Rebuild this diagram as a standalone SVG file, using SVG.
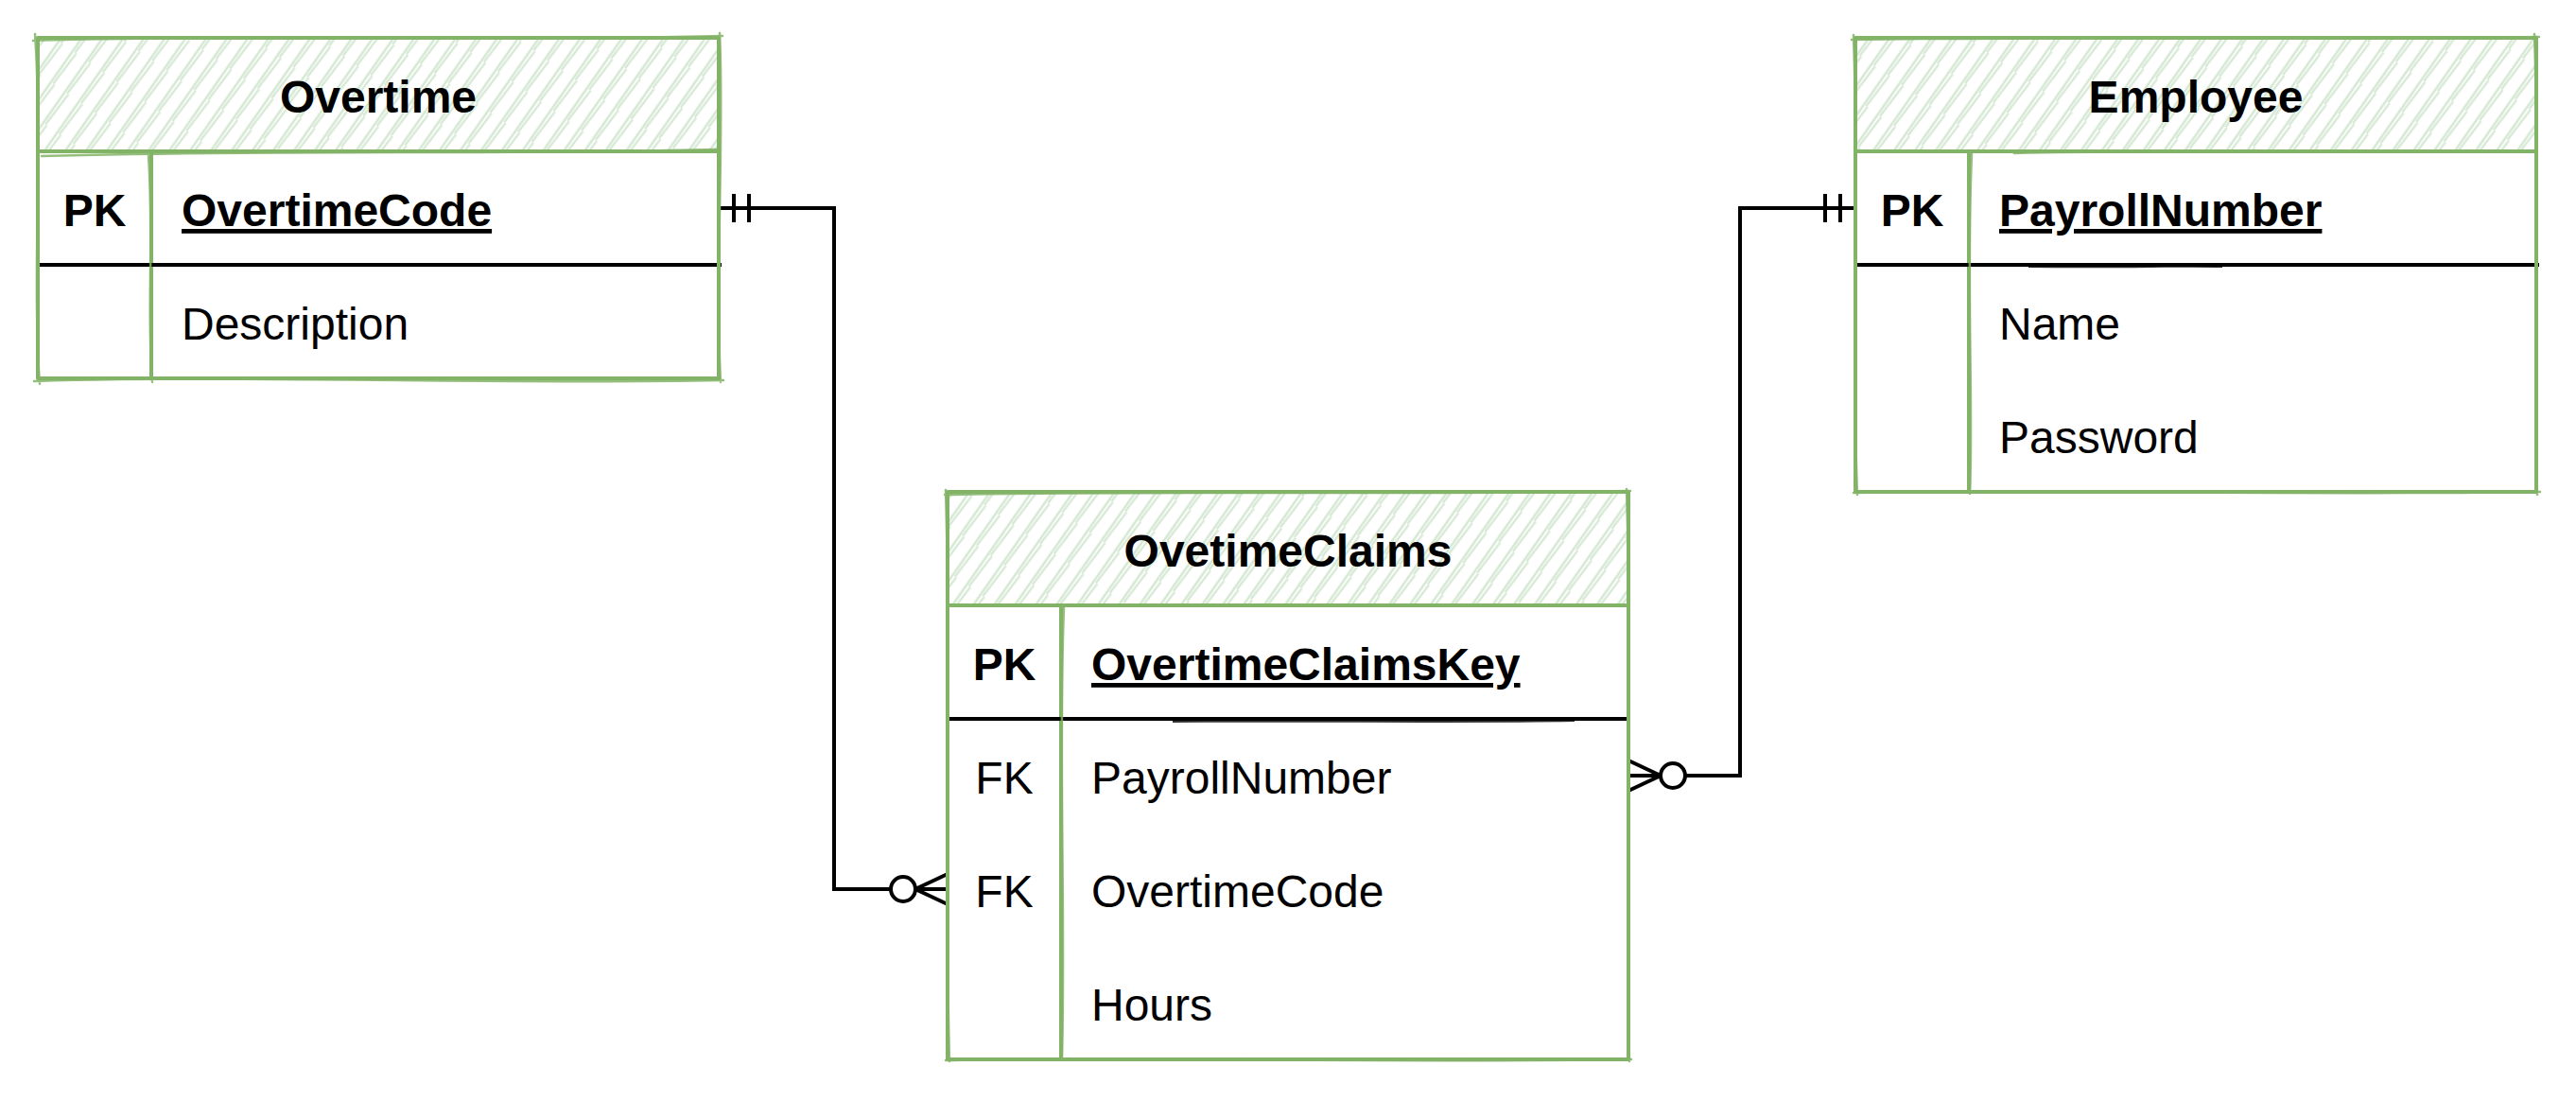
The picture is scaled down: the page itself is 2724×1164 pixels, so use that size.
<svg xmlns="http://www.w3.org/2000/svg" width="2724" height="1164" viewBox="0 0 2724 1164">
<style>
.bg{fill:#ffffff}
.frame{fill:none;stroke:#82b366;stroke-width:4;stroke-linejoin:round}
.sk{fill:none;stroke:#82b366;stroke-width:2.5;stroke-linecap:round;opacity:0.85}
.gl{stroke:#82b366;stroke-width:4;stroke-linecap:round}
.bl{stroke:#000000;stroke-width:4}
.blsk{fill:none;stroke:#000000;stroke-width:2;opacity:0.8}
text{font-family:"Liberation Sans",Arial,Helvetica,sans-serif;font-size:48px;fill:#000000}
.title{font-weight:bold;text-anchor:middle}
.key{font-weight:bold;text-anchor:middle}
.fk{text-anchor:middle}
.pk{font-weight:bold;text-decoration:underline}
.conn{fill:none;stroke:#000000;stroke-width:4;stroke-linejoin:miter}
</style>
<defs>
<pattern id="hatch" patternUnits="userSpaceOnUse" width="18" height="40" patternTransform="rotate(35)">
<line x1="4" y1="0" x2="4" y2="40" stroke="#d5e8d4" stroke-width="2.6"/>
<line x1="8.5" y1="0" x2="7" y2="40" stroke="#d5e8d4" stroke-width="2.2"/>
</pattern>
<marker id="mandOne" markerUnits="userSpaceOnUse" viewBox="-60 -24 64 48" refX="0" refY="0" markerWidth="64" markerHeight="48" orient="auto-start-reverse" overflow="visible">
<path d="M-16,-15 L-16,15 M-32,-15 L-32,15" fill="none" stroke="#000" stroke-width="4"/>
</marker>
<marker id="zeroMany" markerUnits="userSpaceOnUse" viewBox="-64 -24 68 48" refX="0" refY="0" markerWidth="68" markerHeight="48" orient="auto-start-reverse" overflow="visible">
<path d="M0,-16 L-34,0 L0,16 M-34,0 L0,0" fill="none" stroke="#000" stroke-width="4"/>
<circle cx="-47" cy="0" r="13" fill="#fff" stroke="#000" stroke-width="4"/>
</marker>
</defs>
<rect width="2724" height="1164" fill="#ffffff"/>

<g id="connectors">
<path class="conn" d="M760,220 L882,220 L882,940 L1002,940" marker-start="url(#mandOne)" marker-end="url(#zeroMany)"/>
<path class="conn" d="M1722,820 L1840,820 L1840,220 L1962,220" marker-start="url(#zeroMany)" marker-end="url(#mandOne)"/>
</g>

<g id="overtime">
<rect class="bg" x="40" y="40" width="720" height="360"/>
<rect x="40" y="40" width="720" height="120" fill="url(#hatch)"/>
<line class="gl" x1="40" y1="160" x2="760" y2="160"/>
<line class="gl" x1="160" y1="160" x2="160" y2="400"/>
<line class="bl" x1="38" y1="280" x2="763" y2="280"/>
<rect class="frame" x="40" y="40" width="720" height="360"/>
<path class="sk" d="M35,43 C260,36 520,44 764,38 M761,35 C766,140 756,290 762,404 M765,402 C520,407 280,396 36,403 M42,406 C34,300 45,150 37,36 M44,165 C300,158 520,164 757,158 M157,164 C163,260 155,330 161,404"/>
<text class="title" x="400" y="119">Overtime</text>
<text class="key" x="100" y="239">PK</text>
<text class="pk" x="192" y="239">OvertimeCode</text>
<text x="192" y="359">Description</text>
</g>

<g id="employee">
<rect class="bg" x="1962" y="40" width="720" height="480"/>
<rect x="1962" y="40" width="720" height="120" fill="url(#hatch)"/>
<line class="gl" x1="1962" y1="160" x2="2682" y2="160"/>
<line class="gl" x1="2082" y1="160" x2="2082" y2="520"/>
<line class="bl" x1="1960" y1="280" x2="2685" y2="280"/>
<path class="blsk" d="M2145,282 C2250,283 2300,281 2350,282"/>
<rect class="frame" x="1962" y="40" width="720" height="480"/>
<path class="sk" d="M1958,42 C2200,38 2450,43 2685,39 M2680,36 C2686,200 2678,380 2683,523 M2686,520 C2450,524 2200,517 1960,521 M1964,523 C1958,380 1966,200 1960,37 M2130,162 C2250,159 2350,162 2445,160 M2085,163 C2079,300 2087,430 2083,522"/>
<text class="title" x="2322" y="119">Employee</text>
<text class="key" x="2022" y="239">PK</text>
<text class="pk" x="2114" y="239">PayrollNumber</text>
<text x="2114" y="359">Name</text>
<text x="2114" y="479">Password</text>
</g>

<g id="ovetimeclaims">
<rect class="bg" x="1002" y="520" width="720" height="600"/>
<rect x="1002" y="520" width="720" height="120" fill="url(#hatch)"/>
<line class="gl" x1="1002" y1="640" x2="1722" y2="640"/>
<line class="gl" x1="1122" y1="640" x2="1122" y2="1120"/>
<line class="bl" x1="1000" y1="760" x2="1724" y2="760"/>
<path class="blsk" d="M1240,763 C1400,762 1550,764 1665,762"/>
<rect class="frame" x="1002" y="520" width="720" height="600"/>
<path class="sk" d="M999,523 C1250,518 1480,524 1724,519 M1720,517 C1726,700 1718,900 1723,1122 M1725,1120 C1480,1124 1250,1117 1000,1121 M1004,1122 C998,900 1006,700 1000,518 M1125,642 C1119,800 1127,960 1123,1120"/>
<text class="title" x="1362" y="599">OvetimeClaims</text>
<text class="key" x="1062" y="719">PK</text>
<text class="pk" x="1154" y="719">OvertimeClaimsKey</text>
<text class="fk" x="1062" y="839">FK</text>
<text x="1154" y="839">PayrollNumber</text>
<text class="fk" x="1062" y="959">FK</text>
<text x="1154" y="959">OvertimeCode</text>
<text x="1154" y="1079">Hours</text>
</g>
</svg>
